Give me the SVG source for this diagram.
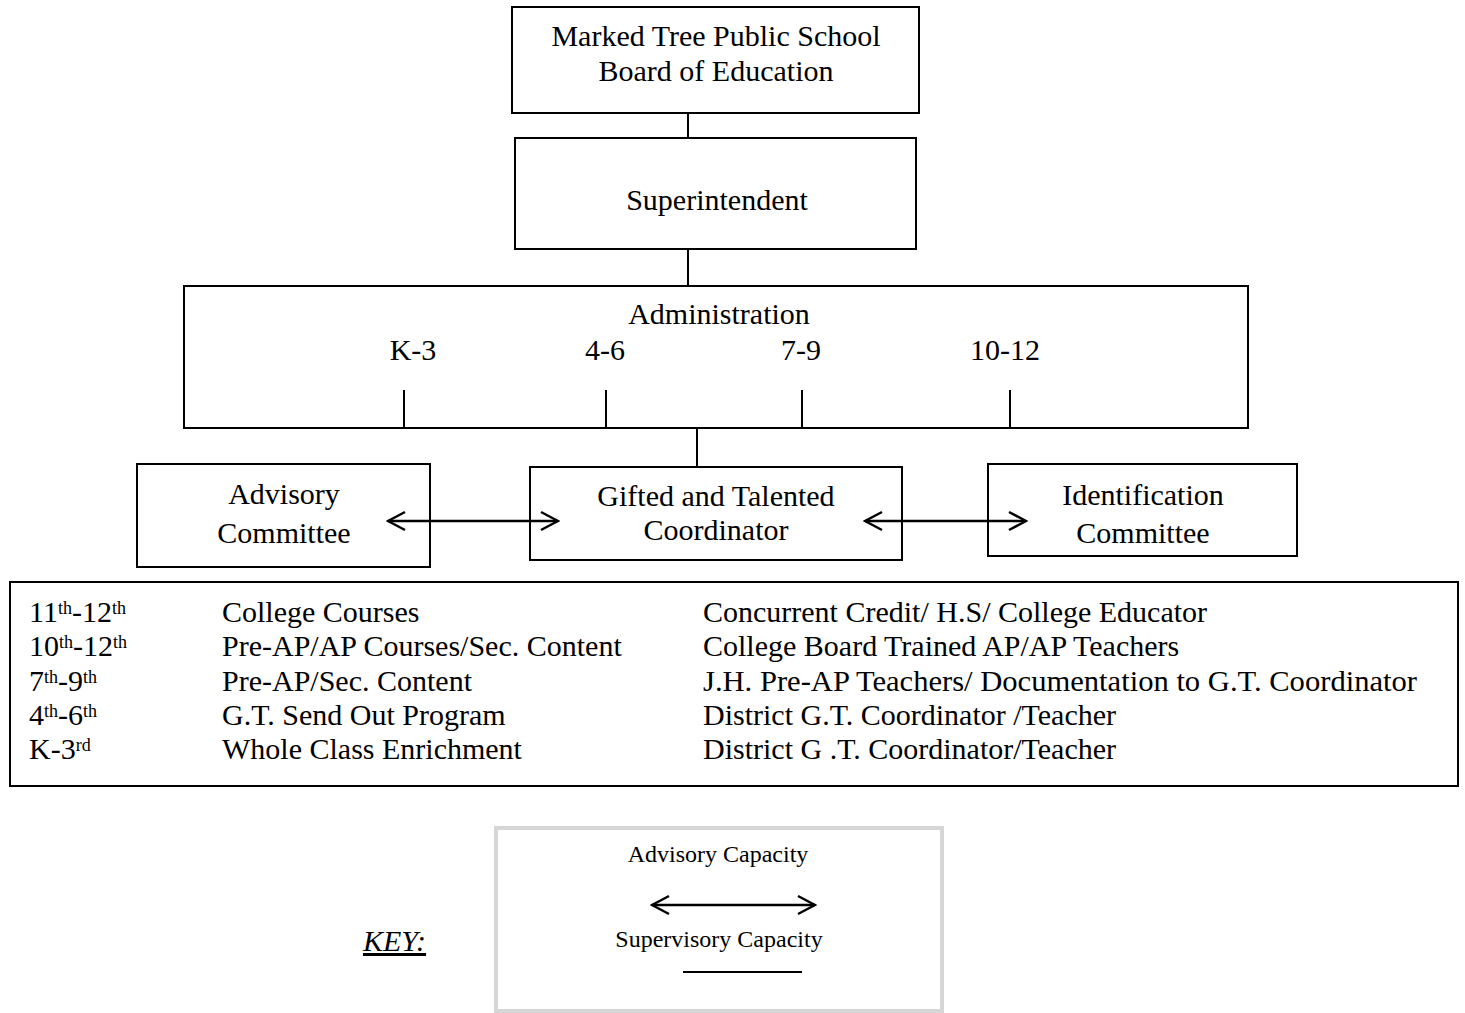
<svg xmlns="http://www.w3.org/2000/svg" width="1465" height="1013" viewBox="0 0 1465 1013">
<style>
  .box { fill: #ffffff; stroke: #000000; stroke-width: 2; }
  .key { fill: #ffffff; stroke: #d6d6d6; stroke-width: 4; }
  .t { font-family: "Liberation Serif", "Times New Roman", serif; font-size: 30px; fill: #000000; }
  .c { text-anchor: middle; }
  .s { font-size: 24px; }
  .sup { font-size: 18px; }
  .ln { stroke: #000000; stroke-width: 2; fill: none; }
  .ar { stroke: #000000; stroke-width: 2.5; fill: none; marker-start: url(#chev); marker-end: url(#chev); }
</style>
<defs>
  <marker id="chev" viewBox="0 0 22 22" refX="20" refY="11" markerWidth="22" markerHeight="22" markerUnits="userSpaceOnUse" orient="auto-start-reverse">
    <path d="M3,2 L20,11 L3,20" fill="none" stroke="#000000" stroke-width="2.5"/>
  </marker>
</defs>
<rect width="1465" height="1013" fill="#ffffff"/>

<g id="board">
  <rect class="box" x="512" y="7" width="407" height="106"/>
  <text class="t c" x="716" y="46">Marked Tree Public School</text>
  <text class="t c" x="716" y="81">Board of Education</text>
</g>

<g id="superintendent">
  <rect class="box" x="515" y="138" width="401" height="111"/>
  <text class="t c" x="717" y="210">Superintendent</text>
</g>

<g id="administration">
  <rect class="box" x="184" y="286" width="1064" height="142"/>
  <text class="t c" x="719" y="324">Administration</text>
  <text class="t c" x="413" y="360">K-3</text>
  <text class="t c" x="605" y="360">4-6</text>
  <text class="t c" x="801" y="360">7-9</text>
  <text class="t c" x="1005" y="360">10-12</text>
</g>

<g id="advisory">
  <rect class="box" x="137" y="464" width="293" height="103"/>
  <text class="t c" x="284" y="504">Advisory</text>
  <text class="t c" x="284" y="543">Committee</text>
</g>

<g id="coordinator">
  <rect class="box" x="530" y="467" width="372" height="93"/>
  <text class="t c" x="716" y="506">Gifted and Talented</text>
  <text class="t c" x="716" y="540">Coordinator</text>
</g>

<g id="identification">
  <rect class="box" x="988" y="464" width="309" height="92"/>
  <text class="t c" x="1143" y="505">Identification</text>
  <text class="t c" x="1143" y="543">Committee</text>
</g>

<g id="connectors">
  <line class="ln" x1="688" y1="113" x2="688" y2="138"/>
  <line class="ln" x1="688" y1="249" x2="688" y2="286"/>
  <line class="ln" x1="404" y1="390" x2="404" y2="428"/>
  <line class="ln" x1="606" y1="390" x2="606" y2="428"/>
  <line class="ln" x1="802" y1="390" x2="802" y2="428"/>
  <line class="ln" x1="1010" y1="390" x2="1010" y2="428"/>
  <line class="ln" x1="697" y1="428" x2="697" y2="467"/>
  <line class="ar" x1="388" y1="521" x2="558" y2="521"/>
  <line class="ar" x1="865" y1="521" x2="1026" y2="521"/>
</g>

<g id="programs">
  <rect class="box" x="10" y="582" width="1448" height="204"/>
  <text class="t" x="29" y="622">11<tspan class="sup" dy="-8">th</tspan><tspan dy="8">-12</tspan><tspan class="sup" dy="-8">th</tspan></text>
  <text class="t" x="29" y="656">10<tspan class="sup" dy="-8">th</tspan><tspan dy="8">-12</tspan><tspan class="sup" dy="-8">th</tspan></text>
  <text class="t" x="29" y="691">7<tspan class="sup" dy="-8">th</tspan><tspan dy="8">-9</tspan><tspan class="sup" dy="-8">th</tspan></text>
  <text class="t" x="29" y="725">4<tspan class="sup" dy="-8">th</tspan><tspan dy="8">-6</tspan><tspan class="sup" dy="-8">th</tspan></text>
  <text class="t" x="29" y="759">K-3<tspan class="sup" dy="-8">rd</tspan></text>

  <text class="t" x="222" y="622">College Courses</text>
  <text class="t" x="222" y="656">Pre-AP/AP Courses/Sec. Content</text>
  <text class="t" x="222" y="691">Pre-AP/Sec. Content</text>
  <text class="t" x="222" y="725">G.T. Send Out Program</text>
  <text class="t" x="222" y="759">Whole Class Enrichment</text>

  <text class="t" x="703" y="622">Concurrent Credit/ H.S/ College Educator</text>
  <text class="t" x="703" y="656">College Board Trained AP/AP Teachers</text>
  <text class="t" x="703" y="691" textLength="714" lengthAdjust="spacingAndGlyphs">J.H. Pre-AP Teachers/ Documentation to G.T. Coordinator</text>
  <text class="t" x="703" y="725">District G.T. Coordinator /Teacher</text>
  <text class="t" x="703" y="759">District G .T. Coordinator/Teacher</text>
</g>

<g id="key">
  <text class="t" x="363" y="951" font-size="27" font-style="italic" text-decoration="underline">KEY:</text>
  <rect class="key" x="496" y="828" width="446" height="183"/>
  <text class="t s c" x="718" y="862">Advisory Capacity</text>
  <line class="ar" x1="652" y1="905" x2="815" y2="905"/>
  <text class="t s c" x="719" y="947">Supervisory Capacity</text>
  <line class="ln" x1="683" y1="972" x2="802" y2="972"/>
</g>
</svg>
